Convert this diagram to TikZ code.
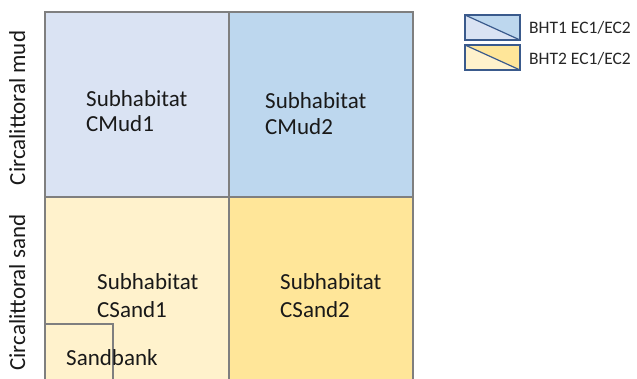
\documentclass[tikz,border=0pt]{standalone}
\usepackage{fontspec}
\setmainfont{Carlito}
\definecolor{mudA}{HTML}{DAE3F3}
\definecolor{mudB}{HTML}{BDD7EE}
\definecolor{sandA}{HTML}{FFF2CC}
\definecolor{sandB}{HTML}{FFE699}
\definecolor{gridline}{HTML}{7F7F7F}
\definecolor{legline}{HTML}{3A5A8C}
\begin{document}
\begin{tikzpicture}[x=1pt,y=-1pt,
  cell/.style={draw=gridline,line width=1.5pt},
  lbl/.style={anchor=base west,inner sep=0pt,font=\fontsize{23}{26}\selectfont,text=black!90},
  side/.style={anchor=base,inner sep=0pt,rotate=90,font=\fontsize{23}{26}\selectfont,text=black!90},
  legtxt/.style={anchor=base west,inner sep=0pt,font=\fontsize{17.5}{20}\selectfont,text=black!85},
  legbox/.style={draw=legline,line width=1.2pt}]
\useasboundingbox (0,0) rectangle (637,378);
\begin{scope}
\clip (0,0) rectangle (637,378);
% habitat cells
\fill[mudA]  (45,12)  rectangle (229,197);
\fill[mudB]  (229,12) rectangle (413,197);
\fill[sandA] (45,197) rectangle (229,390);
\fill[sandB] (229,197) rectangle (413,390);
\draw[cell] (45,390) -- (45,12) -- (413,12) -- (413,390);
\draw[cell] (229,12) -- (229,390);
\draw[cell] (45,197) -- (413,197);
% sandbank inset
\draw[draw=gridline,line width=1.2pt] (45,324) -- (113,324) -- (113,390);
\end{scope}
% cell labels
\node[lbl] (m1a) at (86,106) {Subhabitat};
\node[lbl] (m1b) at (86,131) {CMud1};
\node[lbl] (m2a) at (265,108) {Subhabitat};
\node[lbl] (m2b) at (265,134) {CMud2};
\node[lbl] (s1a) at (97,289) {Subhabitat};
\node[lbl] (s1b) at (97,317) {CSand1};
\node[lbl] (s2a) at (280,289) {Subhabitat};
\node[lbl] (s2b) at (280,317) {CSand2};
\node[lbl] (sb) at (66,365) {Sandbank};
% row labels
\node[side] (rmud) at (25,108) {Circalittoral mud};
\node[side] (rsand) at (25,292.5) {Circalittoral sand};
% legend
\fill[mudA] (465,15) -- (520,40) -- (465,40) -- cycle;
\fill[mudB] (465,15) -- (520,15) -- (520,40) -- cycle;
\draw[legbox] (465,15) rectangle (520,40);
\draw[legbox] (465,15) -- (520,40);
\fill[sandA] (465,45) -- (520,70) -- (465,70) -- cycle;
\fill[sandB] (465,45) -- (520,45) -- (520,70) -- cycle;
\draw[legbox] (465,45) rectangle (520,70);
\draw[legbox] (465,45) -- (520,70);
\node[legtxt] (l1) at (529,33.5) {BHT1 EC1/EC2};
\node[legtxt] (l2) at (529,64) {BHT2 EC1/EC2};
\end{tikzpicture}
\end{document}
